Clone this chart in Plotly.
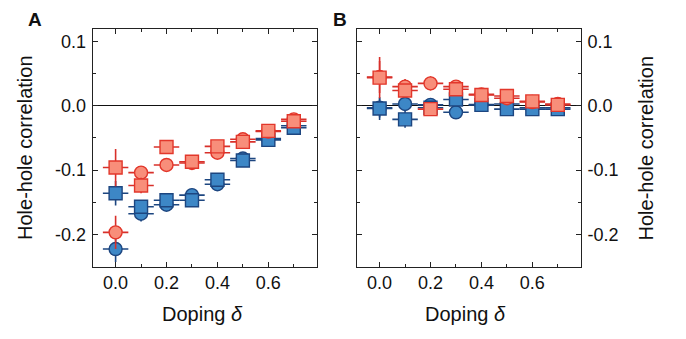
import plotly.graph_objects as go

# ---------------- data ----------------
doping = [0.0, 0.1, 0.2, 0.3, 0.4, 0.5, 0.6, 0.7]
dop_err = [0.05] * 8

# Panel A
a_blue_circ = [-0.223, -0.168, -0.154, -0.139, -0.122, -0.082, -0.051, -0.031]
a_blue_circ_err = [0.020, 0.012, 0.008, 0.006, 0.006, 0.005, 0.004, 0.004]
a_blue_sq = [-0.136, -0.157, -0.147, -0.147, -0.115, -0.085, -0.053, -0.034]
a_blue_sq_err = [0.019, 0.010, 0.008, 0.006, 0.006, 0.005, 0.004, 0.004]
a_red_circ = [-0.197, -0.104, -0.092, -0.089, -0.073, -0.052, -0.040, -0.021]
a_red_circ_err = [0.026, 0.010, 0.010, 0.006, 0.006, 0.005, 0.004, 0.004]
a_red_sq = [-0.096, -0.124, -0.064, -0.087, -0.063, -0.056, -0.039, -0.024]
a_red_sq_err = [0.029, 0.012, 0.011, 0.006, 0.008, 0.005, 0.004, 0.004]

# Panel B
b_blue_circ = [-0.003, 0.003, 0.0015, -0.010, 0.002, 0.003, -0.003, -0.003]
b_blue_circ_err = [0.015, 0.008, 0.006, 0.006, 0.004, 0.004, 0.003, 0.003]
b_blue_sq = [-0.004, -0.021, -0.003, 0.010, 0.0015, -0.005, -0.005, -0.005]
b_blue_sq_err = [0.018, 0.013, 0.006, 0.006, 0.004, 0.004, 0.003, 0.003]
b_red_circ = [0.045, 0.030, 0.035, 0.030, 0.018, 0.012, 0.006, 0.003]
b_red_circ_err = [0.025, 0.012, 0.011, 0.006, 0.005, 0.004, 0.003, 0.003]
b_red_sq = [0.044, 0.024, -0.005, 0.026, 0.017, 0.0155, 0.007, 0.0015]
b_red_sq_err = [0.032, 0.010, 0.006, 0.006, 0.005, 0.004, 0.003, 0.003]

x_ticks = [0.0, 0.2, 0.4, 0.6]
y_ticks = [-0.2, -0.1, 0.0, 0.1]
x_range = [-0.09, 0.79]
y_range = [-0.2505, 0.1193]

# ---------------- styles ----------------
RED_FILL = "#F88E7A"
RED_EDGE = "#E2372B"
RED_BAR = "#D8302A"
BLUE_FILL = "#3D87C6"
BLUE_EDGE = "#1D4680"
BLUE_BAR = "#1D4680"
FONT = "Liberation Sans, Arial, Helvetica, sans-serif"

# page body has an 8px margin: figure spans window px 8..678 / 8..331
OFF = 8
W, H = 686 - 2 * OFF, 339 - 2 * OFF


def px(xw):
    return (xw - OFF) / W


def py(yw):
    return 1 - (yw - OFF) / H


fig = go.Figure()


def add(xa, ya, y, yerr, symbol, fill, edge, bar):
    fig.add_trace(go.Scatter(
        x=doping, y=y, mode="markers", xaxis=xa, yaxis=ya,
        marker=dict(symbol=symbol, size=13, color=fill,
                    line=dict(color=edge, width=1.4)),
        error_y=dict(type="data", array=yerr, visible=True,
                     color=bar, thickness=1.6, width=0),
        error_x=dict(type="data", array=dop_err, visible=True,
                     color=bar, thickness=1.6, width=0),
        showlegend=False, hoverinfo="skip",
    ))


for xa, ya, sets in [
    ("x", "y", [(a_blue_circ, a_blue_circ_err, "circle", "b"),
                (a_blue_sq, a_blue_sq_err, "square", "b"),
                (a_red_circ, a_red_circ_err, "circle", "r"),
                (a_red_sq, a_red_sq_err, "square", "r")]),
    ("x2", "y2", [(b_blue_circ, b_blue_circ_err, "circle", "b"),
                  (b_blue_sq, b_blue_sq_err, "square", "b"),
                  (b_red_circ, b_red_circ_err, "circle", "r"),
                  (b_red_sq, b_red_sq_err, "square", "r")]),
]:
    for y, e, sym, c in sets:
        if c == "b":
            add(xa, ya, y, e, sym, BLUE_FILL, BLUE_EDGE, BLUE_BAR)
        else:
            add(xa, ya, y, e, sym, RED_FILL, RED_EDGE, RED_BAR)

xaxis_common = dict(
    range=x_range, tickvals=x_ticks, ticktext=[f"{v:.1f}" for v in x_ticks],
    ticks="inside", ticklen=5, tickwidth=1.2, tickcolor="#222",
    minor=dict(dtick=0.1, tick0=0.0, ticks="inside", ticklen=3, tickwidth=1.2, tickcolor="#222"),
    showline=True, linecolor="#222", linewidth=1.3, mirror="ticks",
    showgrid=False, zeroline=False, automargin=False,
    tickfont=dict(family=FONT, size=18, color="#111"),
    ticklabelstandoff=0,
)
yaxis_common = dict(
    range=y_range, tickvals=y_ticks, ticktext=[f"{v:.1f}" for v in y_ticks],
    ticks="inside", ticklen=5, tickwidth=1.2, tickcolor="#222",
    minor=dict(dtick=0.05, tick0=0.0, ticks="inside", ticklen=3, tickwidth=1.2, tickcolor="#222"),
    showline=True, linecolor="#222", linewidth=1.3, mirror="ticks",
    showgrid=False, zeroline=True, zerolinecolor="#111", zerolinewidth=1.3,
    automargin=False,
    tickfont=dict(family=FONT, size=18, color="#111"),
    ticklabelstandoff=2,
)

fig.update_layout(
    width=W, height=H,
    margin=dict(l=0, r=0, t=0, b=0),
    paper_bgcolor="white", plot_bgcolor="white",
    xaxis=dict(domain=[px(92.7), px(316.7)], anchor="y", **xaxis_common),
    xaxis2=dict(domain=[px(356.7), px(580.7)], anchor="y2", **xaxis_common),
    yaxis=dict(domain=[py(266.7), py(29.3)], anchor="x", side="left", **yaxis_common),
    yaxis2=dict(domain=[py(266.7), py(29.3)], anchor="x2", side="right", **yaxis_common),
    font=dict(family=FONT, color="#111"),
)

title_font = dict(family=FONT, size=20, color="#111")
ann = [
    dict(text="Doping <i>δ</i>", x=px(202), y=py(314), font=title_font),
    dict(text="Doping <i>δ</i>", x=px(466), y=py(314), font=title_font),
    dict(text="Hole-hole correlation", x=px(25), y=py(148), textangle=-90, font=title_font),
    dict(text="Hole-hole correlation", x=px(645.5), y=py(148), textangle=-90, font=title_font),
]
for a in ann:
    a.update(yanchor="middle")
panel_font = dict(family=FONT, size=19, color="#111")
ann += [
    dict(text="<b>A</b>", x=px(35), y=1, yanchor="top", borderpad=0, font=panel_font),
    dict(text="<b>B</b>", x=px(340), y=1, yanchor="top", borderpad=0, font=panel_font),
]
for a in ann:
    a.update(xref="paper", yref="paper", showarrow=False, xanchor="center")
fig.update_layout(annotations=ann)

fig.write_html("out.html")
